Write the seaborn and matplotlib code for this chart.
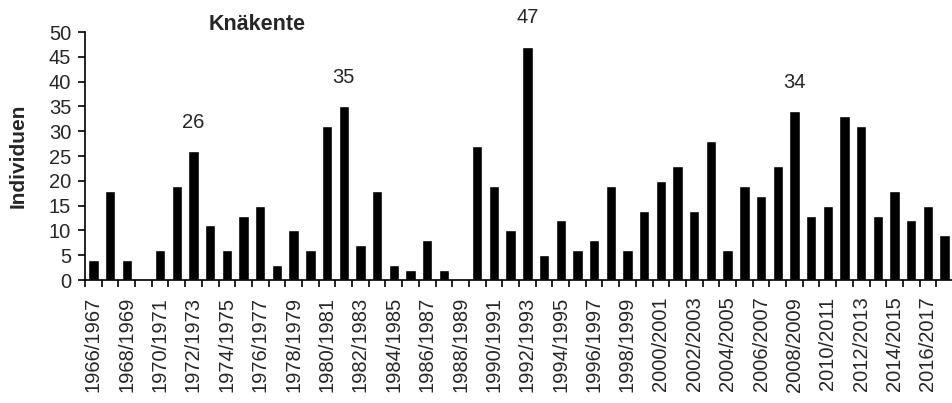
import numpy as np
import pandas as pd
import matplotlib
matplotlib.use("Agg")
import matplotlib.pyplot as plt
import seaborn as sns

# winter seasons 1966/1967 .. 2017/2018
seasons = [f"{y}/{y + 1}" for y in range(1966, 2018)]
counts = [4, 18, 4, 0, 6, 19, 26, 11, 6, 13,
          15, 3, 10, 6, 31, 35, 7, 18, 3, 2,
          8, 2, 0, 27, 19, 10, 47, 5, 12, 6,
          8, 19, 6, 14, 20, 23, 14, 28, 6, 19,
          17, 23, 34, 13, 15, 33, 31, 13, 18, 12,
          15, 9]
labelled = ["1972/1973", "1981/1982", "1992/1993", "2008/2009"]
title = "Knäkente"
ylabel = "Individuen"

df = pd.DataFrame({"season": seasons, "count": counts})

sns.set_style("ticks")
plt.rcParams["font.family"] = ["Liberation Sans", "DejaVu Sans"]

fig = plt.figure(figsize=(9.53, 4.03), dpi=100)
ax = fig.add_axes([85 / 953, 1 - 280 / 403, 1 - 85 / 953, 248 / 403])

sns.barplot(data=df, x="season", y="count", color="black", saturation=1,
            width=0.62, ax=ax)

for s in labelled:
    i = seasons.index(s)
    ax.annotate(str(counts[i]), (i, counts[i]), xytext=(0, 14),
                textcoords="offset points", ha="center", va="bottom",
                fontsize=14.5)

ax.set_ylim(0, 50)
ax.set_yticks(range(0, 51, 5))
ax.set_xlim(-0.5, 51.1)
ax.set_xticks(range(0, len(seasons), 2))
ax.set_xticklabels(seasons[::2], rotation=90)
ax.set_xticks(np.arange(-0.5, len(seasons), 1), minor=True)
ax.tick_params(axis="x", which="major", length=0, pad=12, labelsize=14.5)
ax.tick_params(axis="x", which="minor", length=5, width=1.2, color="black")
ax.tick_params(axis="y", length=5, width=1.2, color="black", labelsize=14.5, pad=5)
ax.set_xlabel("")
ax.set_ylabel(ylabel, fontsize=15, fontweight="bold", labelpad=15)

sns.despine(ax=ax, right=True, top=True)
for sp in ["left", "bottom"]:
    ax.spines[sp].set_linewidth(1.2)
    ax.spines[sp].set_color("black")

fig.text(257 / 953, 1 - 25 / 403, title, ha="center", va="center",
         fontsize=15.5, fontweight="bold")

fig.savefig("out.png", dpi=100)
